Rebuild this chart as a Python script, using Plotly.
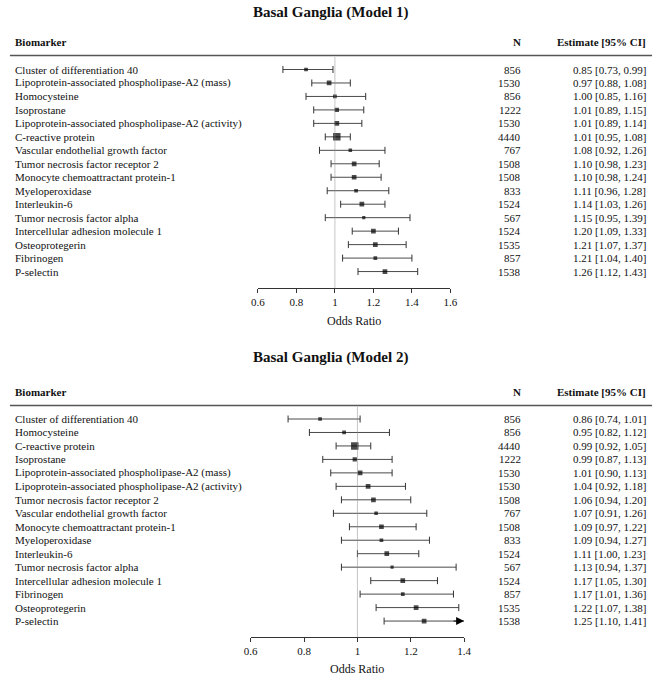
import plotly.graph_objects as go

# ---------------- data ----------------
m1_labels = [
    "Cluster of differentiation 40",
    "Lipoprotein-associated phospholipase-A2 (mass)",
    "Homocysteine",
    "Isoprostane",
    "Lipoprotein-associated phospholipase-A2 (activity)",
    "C-reactive protein",
    "Vascular endothelial growth factor",
    "Tumor necrosis factor receptor 2",
    "Monocyte chemoattractant protein-1",
    "Myeloperoxidase",
    "Interleukin-6",
    "Tumor necrosis factor alpha",
    "Intercellular adhesion molecule 1",
    "Osteoprotegerin",
    "Fibrinogen",
    "P-selectin",
]
m1_n = [856, 1530, 856, 1222, 1530, 4440, 767, 1508, 1508, 833, 1524, 567, 1524, 1535, 857, 1538]
m1_est = [0.85, 0.97, 1.00, 1.01, 1.01, 1.01, 1.08, 1.10, 1.10, 1.11, 1.14, 1.15, 1.20, 1.21, 1.21, 1.26]
m1_lo = [0.73, 0.88, 0.85, 0.89, 0.89, 0.95, 0.92, 0.98, 0.98, 0.96, 1.03, 0.95, 1.09, 1.07, 1.04, 1.12]
m1_hi = [0.99, 1.08, 1.16, 1.15, 1.14, 1.08, 1.26, 1.23, 1.24, 1.28, 1.26, 1.39, 1.33, 1.37, 1.40, 1.43]

m2_labels = [
    "Cluster of differentiation 40",
    "Homocysteine",
    "C-reactive protein",
    "Isoprostane",
    "Lipoprotein-associated phospholipase-A2 (mass)",
    "Lipoprotein-associated phospholipase-A2 (activity)",
    "Tumor necrosis factor receptor 2",
    "Vascular endothelial growth factor",
    "Monocyte chemoattractant protein-1",
    "Myeloperoxidase",
    "Interleukin-6",
    "Tumor necrosis factor alpha",
    "Intercellular adhesion molecule 1",
    "Fibrinogen",
    "Osteoprotegerin",
    "P-selectin",
]
m2_n = [856, 856, 4440, 1222, 1530, 1530, 1508, 767, 1508, 833, 1524, 567, 1524, 857, 1535, 1538]
m2_est = [0.86, 0.95, 0.99, 0.99, 1.01, 1.04, 1.06, 1.07, 1.09, 1.09, 1.11, 1.13, 1.17, 1.17, 1.22, 1.25]
m2_lo = [0.74, 0.82, 0.92, 0.87, 0.90, 0.92, 0.94, 0.91, 0.97, 0.94, 1.00, 0.94, 1.05, 1.01, 1.07, 1.10]
m2_hi = [1.01, 1.12, 1.05, 1.13, 1.13, 1.18, 1.20, 1.26, 1.22, 1.27, 1.23, 1.37, 1.30, 1.36, 1.38, 1.41]

titles = ["Basal Ganglia (Model 1)", "Basal Ganglia (Model 2)"]
x_ranges = [[0.6, 1.6], [0.6, 1.4]]
tick_vals = [[0.6, 0.8, 1.0, 1.2, 1.4, 1.6], [0.6, 0.8, 1.0, 1.2, 1.4]]
tick_text = [["0.6", "0.8", "1", "1.2", "1.4", "1.6"], ["0.6", "0.8", "1", "1.2", "1.4"]]

# ---------------- layout geometry (pixels) ----------------
W, H = 662, 678
FONT = "Liberation Serif, Times New Roman, serif"
SP = 13.47
LABEL_X, N_X, EST_X, TITLE_X = 8, 525, 653, 330
panels = [
    dict(labels=m1_labels, n=m1_n, est=m1_est, lo=m1_lo, hi=m1_hi,
         row0=69.5, axis=288, top=0, x0=256.3, x1=453, title_y=12, head_y=42,
         line_y=55.5, or_y=321),
    dict(labels=m2_labels, n=m2_n, est=m2_est, lo=m2_lo, hi=m2_hi,
         row0=419, axis=637, top=340, x0=249, x1=467, title_y=357, head_y=392,
         line_y=405.5, or_y=669),
]

fig = go.Figure()
annotations = []
shapes = []
layout_axes = {}


def txt_ann(x, y, yref, text, anchor, size=11):
    return dict(x=x / W, y=y, xref="paper", yref=yref, text=text,
                xanchor=anchor, align=anchor if anchor != "center" else "center",
                yanchor="middle", showarrow=False, borderpad=0, borderwidth=0,
                font=dict(family=FONT, size=size, color="#111"))


for k, p in enumerate(panels):
    xa = "x" if k == 0 else "x2"
    ya = "y" if k == 0 else "y2"
    xname = "xaxis" if k == 0 else "xaxis2"
    yname = "yaxis" if k == 0 else "yaxis2"
    xmin, xmax = x_ranges[k]
    rows = list(range(len(p["labels"])))

    y_bot = (p["axis"] - p["row0"]) / SP
    y_top = (p["top"] - p["row0"]) / SP
    layout_axes[xname] = dict(
        domain=[p["x0"] / W, p["x1"] / W], range=[xmin, xmax], anchor=ya,
        showline=True, linecolor="#333", linewidth=1, showgrid=False, zeroline=False,
        ticks="outside", ticklen=4, tickcolor="#333", tickwidth=1,
        tickvals=tick_vals[k], ticktext=tick_text[k],
        tickfont=dict(family=FONT, size=11, color="#111"), fixedrange=True,
    )
    layout_axes[yname] = dict(
        domain=[1 - p["axis"] / H, 1 - p["top"] / H], range=[y_bot, y_top],
        anchor=xa, visible=False, fixedrange=True,
    )

    # reference line at 1
    ref_top = (p["line_y"] + 2 - p["row0"]) / SP
    shapes.append(dict(type="line", xref=xa, yref=ya, x0=1, x1=1, y0=ref_top, y1=y_bot,
                       line=dict(color="#8a8a8a", width=1, dash="1px,1px")))

    # CI lines (clipped to axis range)
    lx, ly, capx, capy = [], [], [], []
    arrows = []
    for i in rows:
        lo, hi = p["lo"][i], p["hi"][i]
        hi_c = min(hi, xmax)
        lx += [lo, hi_c, None]
        ly += [i, i, None]
        capx.append(lo); capy.append(i)
        if hi <= xmax:
            capx.append(hi); capy.append(i)
        else:
            arrows.append(i)
    fig.add_trace(go.Scatter(x=lx, y=ly, xaxis=xa, yaxis=ya, mode="lines",
                             line=dict(color="#4a4a4a", width=1), hoverinfo="skip",
                             showlegend=False))
    fig.add_trace(go.Scatter(x=capx, y=capy, xaxis=xa, yaxis=ya, mode="markers",
                             marker=dict(symbol="line-ns", size=5,
                                         line=dict(color="#333", width=1)),
                             hoverinfo="skip", showlegend=False))
    # point estimates, size by N
    sizes = [0.8 + 0.1 * (nn ** 0.5) for nn in p["n"]]
    fig.add_trace(go.Scatter(x=p["est"], y=rows, xaxis=xa, yaxis=ya, mode="markers",
                             marker=dict(symbol="square", size=sizes, color="black",
                                         line=dict(width=0)),
                             text=p["labels"], hoverinfo="text+x", showlegend=False))
    for i in arrows:
        annotations.append(dict(x=xmax, y=i, ax=xmax - 0.045, ay=i, xref=xa, yref=ya,
                                axref=xa, ayref=ya, showarrow=True, arrowhead=2,
                                arrowsize=1.6, arrowwidth=1, arrowcolor="black", text=""))

    # text columns
    for i in rows:
        annotations.append(txt_ann(LABEL_X, i, ya, p["labels"][i], "left"))
        annotations.append(txt_ann(N_X, i, ya, str(p["n"][i]), "right"))
        est_txt = f"{p['est'][i]:.2f} [{p['lo'][i]:.2f}, {p['hi'][i]:.2f}]"
        annotations.append(txt_ann(EST_X, i, ya, est_txt, "right"))

    # headers
    for txt, xx, anc in [("Biomarker", LABEL_X, "left"), ("N", N_X, "right"),
                         ("Estimate [95% CI]", EST_X, "right")]:
        a = txt_ann(xx, 1 - p["head_y"] / H, "paper", f"<b>{txt}</b>", anc)
        annotations.append(a)
    shapes.append(dict(type="line", xref="paper", yref="paper", x0=3 / W, x1=659 / W,
                       y0=1 - p["line_y"] / H, y1=1 - p["line_y"] / H,
                       line=dict(color="#555", width=1.5)))
    # title
    annotations.append(txt_ann(TITLE_X, 1 - p["title_y"] / H, "paper",
                               f"<b>{titles[k]}</b>", "center", size=15))
    # x-axis title
    annotations.append(txt_ann((p["x0"] + p["x1"]) / 2, 1 - p["or_y"] / H, "paper",
                               "Odds Ratio", "center", size=12))

fig.update_layout(
    width=W, height=H, margin=dict(l=0, r=0, t=0, b=0),
    paper_bgcolor="white", plot_bgcolor="white",
    annotations=annotations, shapes=shapes, showlegend=False,
    **layout_axes,
)
fig.write_html("out.html", config={"displayModeBar": False},
               post_script="document.body.style.margin='0';document.body.style.overflow='hidden';")
